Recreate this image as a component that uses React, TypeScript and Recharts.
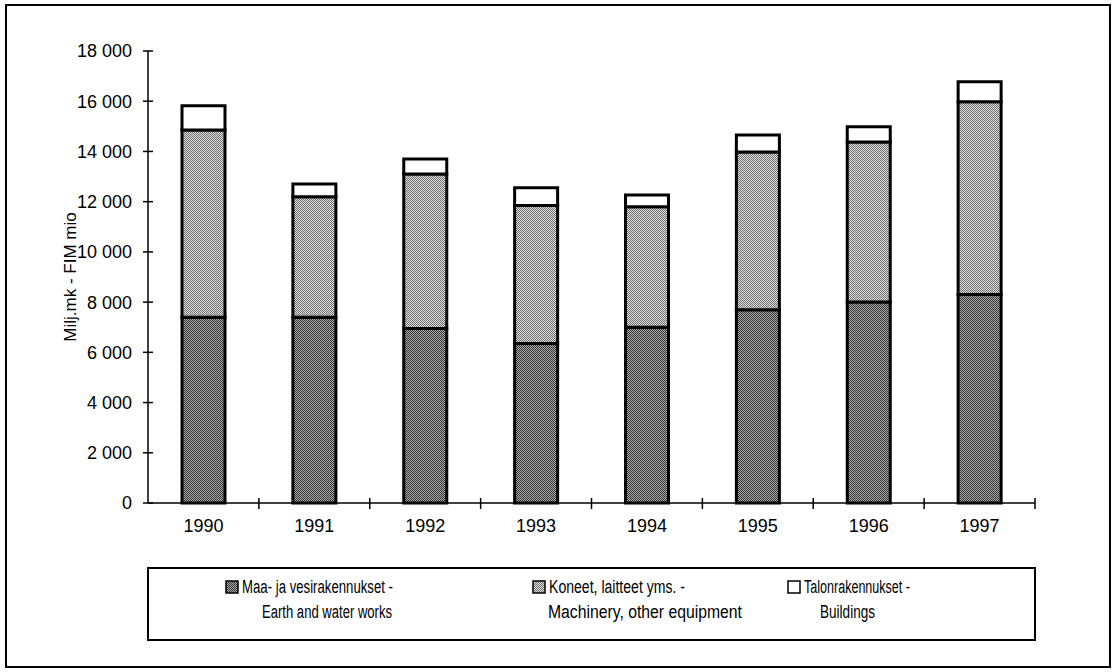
import React from 'react';
import { BarChart, Bar, XAxis, YAxis } from 'recharts';

const years = ['1990', '1991', '1992', '1993', '1994', '1995', '1996', '1997'];
const earthWorks = [7400, 7400, 6950, 6350, 7000, 7700, 8000, 8300];
const machinery = [7450, 4800, 6150, 5500, 4800, 6280, 6380, 7680];
const buildings = [970, 500, 600, 700, 470, 670, 600, 800];
const yTicks = [0, 2000, 4000, 6000, 8000, 10000, 12000, 14000, 16000, 18000];

const legendLine1 = ['Maa- ja vesirakennukset -', 'Koneet, laitteet yms. -', 'Talonrakennukset -'];
const legendLine2 = ['Earth and water works', 'Machinery, other equipment', 'Buildings'];

const data = years.map((y, i) => ({
  year: y,
  earth: earthWorks[i],
  mach: machinery[i],
  build: buildings[i],
}));

const W = 1116;
const H = 672;
const PLOT_LEFT = 148;
const PLOT_RIGHT = 1035;
const PLOT_TOP = 51;
const PLOT_BOTTOM = 503;
const STEP = (PLOT_RIGHT - PLOT_LEFT) / years.length;
const FONT = 'Liberation Sans, Arial, sans-serif';

const fmt = (v: number) => {
  const s = String(v);
  if (s.length <= 3) return s;
  return s.slice(0, s.length - 3) + ' ' + s.slice(s.length - 3);
};

const YTick = (props: any) => {
  const { x, y, payload } = props;
  return (
    <g>
      <line x1={x - 5} x2={x + 5} y1={y} y2={y} stroke="#000" strokeWidth={1.5} />
      <text x={x - 16} y={y} dy="0.36em" textAnchor="end" fontFamily={FONT} fontSize={18} fill="#000">
        {fmt(payload.value)}
      </text>
    </g>
  );
};

const XTick = (props: any) => {
  const { x, y, payload } = props;
  const bx = x + STEP / 2;
  return (
    <g>
      <line x1={bx} x2={bx} y1={y - 5} y2={y + 6} stroke="#000" strokeWidth={1.5} />
      <text x={x} y={y + 29} textAnchor="middle" fontFamily={FONT} fontSize={18} fill="#000">
        {payload.value}
      </text>
    </g>
  );
};

const PatternDefs = ({ prefix }: { prefix: string }) => (
  <defs>
    <pattern id={prefix + 'earth'} width="2" height="2" patternUnits="userSpaceOnUse">
      <rect width="2" height="2" fill="#ababab" />
      <rect x="0" y="0" width="1" height="1" fill="#333333" />
      <rect x="1" y="1" width="1" height="1" fill="#333333" />
    </pattern>
    <pattern id={prefix + 'mach'} width="2" height="2" patternUnits="userSpaceOnUse">
      <rect width="2" height="2" fill="#e0e0e0" />
      <rect x="0" y="0" width="1" height="1" fill="#6e6e6e" />
      <rect x="1" y="1" width="1" height="1" fill="#6e6e6e" />
    </pattern>
  </defs>
);

const legendFills = ['url(#lg-earth)', 'url(#lg-mach)', '#fff'];
const legendIconX = [226, 533, 788];
const legendLine1X = [242, 549, 804];
const legendLine1W = [151, 136, 106];
const legendLine2X = [262, 548, 820];
const legendLine2W = [130, 194, 55];

export default function App() {
  return (
    <div style={{ position: 'absolute', left: 0, top: 0, width: W, height: H, background: '#fff', overflow: 'hidden' }}>
      <div
        style={{
          position: 'absolute',
          left: 5,
          top: 4,
          width: 1106,
          height: 664,
          border: '2px solid #000',
          boxSizing: 'border-box',
        }}
      />
      <div style={{ position: 'absolute', left: 0, top: 0 }}>
        <BarChart
          width={W}
          height={H}
          data={data}
          margin={{ top: PLOT_TOP, right: W - PLOT_RIGHT, bottom: H - PLOT_BOTTOM - 40, left: 8 }}
          barSize={43}
        >
          <PatternDefs prefix="ch-" />
          <XAxis
            dataKey="year"
            height={40}
            axisLine={{ stroke: '#000', strokeWidth: 1.5 }}
            tickLine={false}
            tickSize={0}
            tickMargin={0}
            tick={<XTick />}
            interval={0}
          />
          <XAxis
            xAxisId="top"
            dataKey="year"
            orientation="top"
            height={0}
            axisLine={{ stroke: '#000', strokeWidth: 1.5 }}
            tick={false}
            tickLine={false}
          />
          <YAxis
            width={140}
            domain={[0, 18000]}
            ticks={yTicks}
            interval={0}
            axisLine={{ stroke: '#000', strokeWidth: 1.5 }}
            tickLine={false}
            tickSize={0}
            tickMargin={0}
            tick={<YTick />}
            label={{
              value: 'Milj.mk - FIM mio',
              angle: -90,
              position: 'insideLeft',
              offset: 62,
              style: { textAnchor: 'middle', fontFamily: FONT, fontSize: 17, fill: '#000' },
            }}
          />
          <YAxis
            yAxisId="right"
            orientation="right"
            width={0}
            domain={[0, 18000]}
            axisLine={{ stroke: '#000', strokeWidth: 1.5 }}
            tick={false}
            tickLine={false}
          />
          <Bar dataKey="earth" stackId="a" fill="url(#ch-earth)" stroke="#000" strokeWidth={3} isAnimationActive={false} />
          <Bar dataKey="mach" stackId="a" fill="url(#ch-mach)" stroke="#000" strokeWidth={3} isAnimationActive={false} />
          <Bar dataKey="build" stackId="a" fill="#fff" stroke="#000" strokeWidth={3} isAnimationActive={false} />
        </BarChart>
      </div>
      <svg width={W} height={H} style={{ position: 'absolute', left: 0, top: 0, pointerEvents: 'none' }}>
        <PatternDefs prefix="lg-" />
        <rect x={148} y={568} width={887} height={72} fill="none" stroke="#000" strokeWidth={2} />
        {legendLine1.map((t, i) => (
          <g key={t}>
            <rect x={legendIconX[i]} y={581} width={12} height={12} fill={legendFills[i]} stroke="#000" strokeWidth={1.5} />
            <text
              x={legendLine1X[i]}
              y={593}
              fontFamily={FONT}
              fontSize={18}
              textLength={legendLine1W[i]}
              lengthAdjust="spacingAndGlyphs"
              fill="#000"
            >
              {t}
            </text>
            <text
              x={legendLine2X[i]}
              y={618}
              fontFamily={FONT}
              fontSize={18}
              textLength={legendLine2W[i]}
              lengthAdjust="spacingAndGlyphs"
              fill="#000"
            >
              {legendLine2[i]}
            </text>
          </g>
        ))}
      </svg>
    </div>
  );
}
